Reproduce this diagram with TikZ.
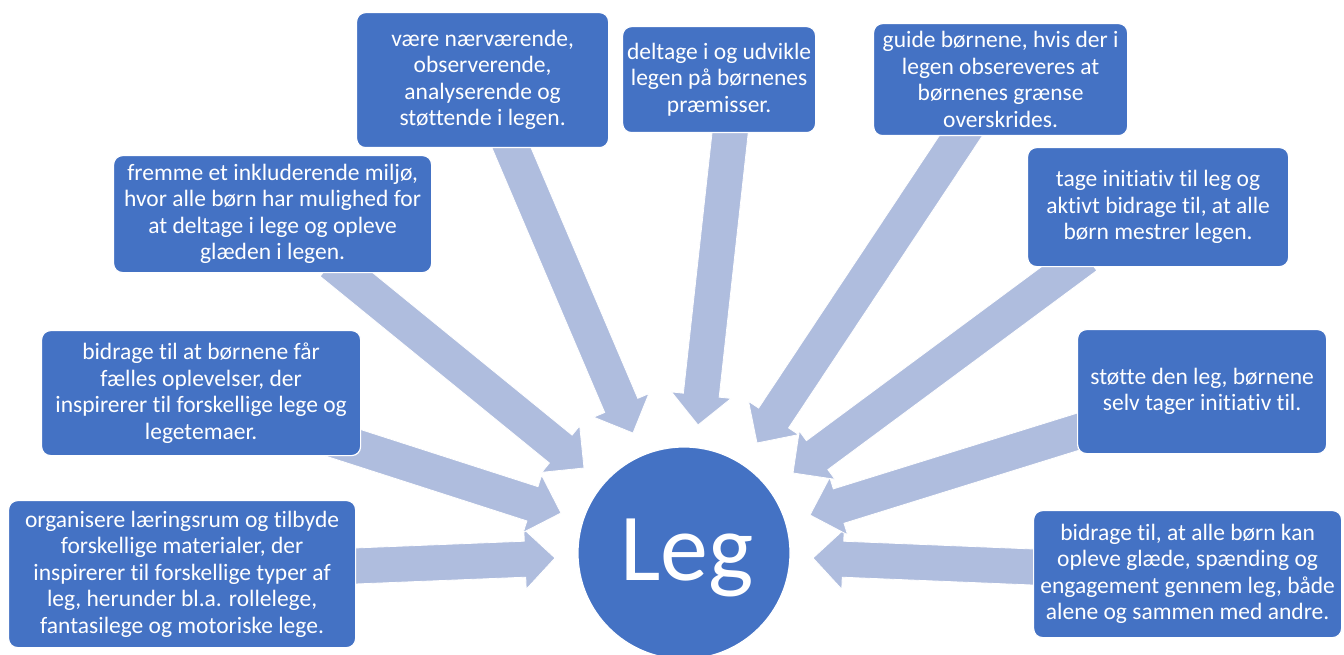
\documentclass[tikz,border=0pt]{standalone}
\usepackage{fontspec}
\setmainfont{Carlito}[Ligatures={NoCommon,NoContextual}]
\usetikzlibrary{calc}
\definecolor{boxblue}{RGB}{68,114,196}
\definecolor{arrowblue}{RGB}{175,189,222}
\tikzset{
  box/.style={fill=boxblue, draw=white, line width=1.2pt, rounded corners=9pt, text=white, align=center,
    font=\fontsize{23.5}{26.5}\selectfont, inner sep=0pt, anchor=north west},
  blockarrow/.style={fill=arrowblue, draw=white, line width=0.8pt, line join=miter},
  hub/.style={circle, fill=boxblue, draw=white, line width=1.2pt, minimum size=212pt, inner sep=0pt}
}
\newcommand{\blockarr}[2]{%
  \coordinate (hb) at ($(#2)!30pt!(#1)$);
  \coordinate (tb) at ($(#1)!-20pt!(#2)$);
  \path[blockarrow] ($(tb)!18pt!90:(#2)$) -- ($(hb)!18pt!90:(#2)$) -- ($(hb)!30pt!90:(#2)$) -- (#2)
    -- ($(hb)!30pt!-90:(#2)$) -- ($(hb)!18pt!-90:(#2)$) -- ($(tb)!18pt!-90:(#2)$) -- cycle;}
\begin{document}
\begin{tikzpicture}[x=1pt,y=-1pt]
\useasboundingbox (0,0) rectangle (1344,655);
% arrow tails and tips
\coordinate (tA) at (355,566);  \coordinate (pA) at (555,558);
\coordinate (tB) at (350,445);  \coordinate (pB) at (561,513);
\coordinate (tC) at (347,275);  \coordinate (pC) at (584,468);
\coordinate (tD) at (512,149);  \coordinate (pD) at (633,433);
\coordinate (tE) at (730,134);  \coordinate (pE) at (698,425);
\coordinate (tF) at (960,137);  \coordinate (pF) at (757,443);
\coordinate (tG) at (1070,268); \coordinate (pG) at (793,473);
\coordinate (tH) at (1077,432); \coordinate (pH) at (810,515);
\coordinate (tI) at (1033,567); \coordinate (pI) at (813,558);
\blockarr{tA}{pA}
\blockarr{tB}{pB}
\blockarr{tC}{pC}
\blockarr{tD}{pD}
\blockarr{tE}{pE}
\blockarr{tI}{pI}
\blockarr{tH}{pH}
\blockarr{tG}{pG}
\blockarr{tF}{pF}
% boxes
\node[box, minimum width=347pt, minimum height=147pt] (b1) at (8,500)
  {organisere læringsrum og tilbyde\\forskellige materialer, der\\inspirerer til forskellige typer af\\leg, herunder bl.a. rollelege,\\fantasilege og motoriske lege.};
\node[box, minimum width=319pt, minimum height=125pt] (b2) at (41,330)
  {bidrage til at børnene får\\fælles oplevelser, der\\inspirerer til forskellige lege og\\legetemaer.};
\node[box, minimum width=318pt, minimum height=117pt] (b3) at (113,155)
  {fremme et inkluderende miljø,\\hvor alle børn har mulighed for\\at deltage i lege og opleve\\glæden i legen.};
\node[box, minimum width=252pt, minimum height=135pt] (b4) at (356,12)
  {være nærværende,\\observerende,\\analyserende og\\støttende i legen.};
\node[box, minimum width=193pt, minimum height=106pt] (b5) at (622,26)
  {deltage i og udvikle\\legen på børnenes\\præmisser.};
\node[box, minimum width=254pt, minimum height=112pt] (b6) at (873,23)
  {guide børnene, hvis der i\\legen obsereveres at\\børnenes grænse\\overskrides.};
\node[box, minimum width=261pt, minimum height=119pt] (b7) at (1027,147)
  {tage initiativ til leg og\\aktivt bidrage til, at alle\\børn mestrer legen.};
\node[box, minimum width=249pt, minimum height=124pt] (b8) at (1077,329)
  {støtte den leg, børnene\\selv tager initiativ til.};
\node[box, minimum width=308pt, minimum height=127pt] (b9) at (1033,510)
  {bidrage til, at alle børn kan\\opleve glæde, spænding og\\engagement gennem leg, både\\alene og sammen med andre.};
% hub
\node[hub] (leg) at (684,553) {};
\node[text=white, font=\fontsize{96}{100}\selectfont, anchor=base, inner sep=0pt] (legtxt) at (687,580) {Leg};
\end{tikzpicture}
\end{document}
